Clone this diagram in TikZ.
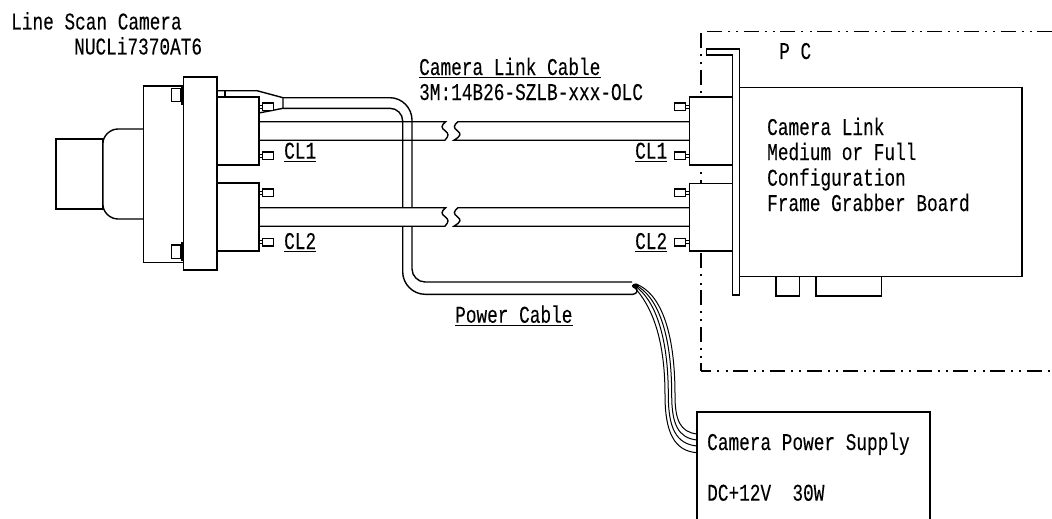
\documentclass[tikz,border=0pt]{standalone}
\usepackage{fontspec}
\newfontfamily\gothic[FakeStretch=0.74,FakeBold=0.12]{Liberation Mono}
\tikzset{
  ink/.style={draw=black,line width=1.4pt,line join=miter},
  part/.style={ink,fill=white},
  border/.style={black,line width=1.9pt,dash pattern=on 15pt off 6pt on 2pt off 6.3pt on 2pt off 5.4pt},
  lbl/.style={anchor=base west,inner sep=0pt,text depth=2.4pt,text height=14pt,font=\gothic\fontsize{24}{24}\selectfont},
  wire/.style={draw=black,line width=1pt}
}
\begin{document}
\begin{tikzpicture}[x=1pt,y=-1pt]
\useasboundingbox (0,0) rectangle (1052,519);
% PC enclosure
\draw[border] (700.7,33) -- (700.7,371);
\draw[border] (707,31.5) -- (1052,31.5);
\draw[border,dash phase=4.3pt] (700.7,371) -- (1052,371);
% power cable
\draw[ink] (283,97.7) -- (390,97.7) .. controls (402,97.7) and (412,108) .. (412,120) -- (412,269) .. controls (412,276) and (418,282) .. (425,282) -- (632,282);
\draw[ink] (283,108.3) -- (390,108.3) .. controls (397,108.3) and (402.7,114) .. (402.7,121) -- (402.7,272) .. controls (402.7,284) and (413,294.3) .. (425,294.3) -- (633,294.3) .. controls (637,293.5) and (638,291) .. (636,288);
\fill[white] (400,207.7) rectangle (415,226.2);
% camera link cables with breaks
\foreach \y in {121.7,207.7}{
  \draw[ink] (259,\y) -- (445.7,\y) .. controls (441,\y+4) and (441,\y+6) .. (445,\y+9) .. controls (449,\y+12) and (449,\y+14) .. (445,\y+18.5) -- (259,\y+18.5);
  \draw[ink] (689,\y) -- (458,\y) .. controls (453.3,\y+4) and (453.3,\y+6) .. (457.3,\y+9) .. controls (461.3,\y+12) and (461.3,\y+14) .. (454,\y+18.5) -- (689,\y+18.5);
}
% lens and body
\draw[part] (56,139) rectangle (103,209);
\draw[part] (143,129) -- (118,129) .. controls (110,129) and (103,136) .. (103,143) -- (103,205) .. controls (103,212) and (110,219) .. (118,219) -- (143,219);
\draw[part] (143.3,86) rectangle (183.5,262.7);
\draw[part] (171.5,88.5) rectangle (180.5,101.5);
\draw[part] (171.5,245) rectangle (180.5,258.5);
\fill[black] (180.5,87) rectangle (183.5,105);
\fill[black] (180.5,242) rectangle (183.5,261);
\draw[part] (183.5,77) rectangle (217,270);
% camera connectors
\draw[part] (217,97) rectangle (259,165);
\draw[part] (217,183) rectangle (259,251);
% strain relief of the power cable
\draw[ink] (217,90.7) -- (257,90.7) -- (283,97.7) -- (283,108.3) -- (259,113);
\draw[ink] (225,90.7) -- (225,97);
% thumb screws
\foreach \y in {103,152,189,238.5}{
  \draw[ink,line width=.9pt,fill=white] (259,\y+2) rectangle (262.3,\y+5);
  \draw[part] (262.3,\y) rectangle (273.5,\y+7.3);
  \draw[ink,line width=.9pt,fill=white] (685.5,\y+2) rectangle (689.5,\y+5);
  \draw[part] (674.5,\y) rectangle (685.5,\y+7.3);
}
% frame grabber
\draw[part] (739.3,87.7) rectangle (1022,276.7);
\draw[part] (776,276.7) rectangle (799.3,296);
\draw[part] (816,276.7) rectangle (881.7,296);
\draw[part] (706.7,49) -- (739.3,49) -- (739.3,295) -- (732.7,295) -- (732.7,55) -- (706.7,55) -- cycle;
\draw[part] (689.5,97) rectangle (732.7,165);
\draw[part] (689.5,183.3) rectangle (732.7,251);
% power leads
\draw[wire,fill=black] (635.5,286) ellipse (3pt and 2pt);
\draw[wire] (636,284) .. controls (660,293) and (675,330) .. (675,395) .. controls (675,420) and (680,432) .. (697,434);
\draw[wire] (635.5,285) .. controls (657,296) and (671.7,332) .. (671.7,395) .. controls (671.7,424) and (678,438) .. (697,440);
\draw[wire] (635,286) .. controls (654,299) and (668.3,334) .. (668.3,395) .. controls (668.3,428) and (676,444) .. (697,446);
\draw[wire] (634,287) .. controls (650,304) and (665,335) .. (665,395) .. controls (665,432) and (674,451) .. (697,452.7);
% power supply
\draw[ink] (697,519) -- (697,412) -- (930,412) -- (930,519);
% texts
\node[lbl] (t1) at (11,29.5) {Line Scan Camera};
\node[lbl] (t2) at (74,54.5) {NUCLi7370AT6};
\node[lbl] (c1l) at (284,158.7) {CL1};
\node[lbl] (c2l) at (284,249) {CL2};
\node[lbl] (c1r) at (635,158.7) {CL1};
\node[lbl] (c2r) at (635,249) {CL2};
\node[lbl] (clc) at (419,75) {Camera Link Cable};
\node[lbl] (pn) at (419,100) {3M:14B26-SZLB-xxx-OLC};
\node[lbl] (pwr) at (455,322.7) {Power Cable};
\node[lbl] (pc) at (779,59) {P C};
\node[lbl] (b1) at (767,135) {Camera Link};
\node[lbl] (b2) at (767,160) {Medium or Full};
\node[lbl] (b3) at (767,185.7) {Configuration};
\node[lbl] (b4) at (767,211) {Frame Grabber Board};
\node[lbl] (s1) at (707,450) {Camera Power Supply};
\node[lbl] (s2) at (707,500.7) {DC+12V\ \ 30W};
\foreach \n in {c1l,c2l,c1r,c2r,clc,pwr}{
  \draw[black,line width=1pt] (\n.south west) -- (\n.south east);
}
\end{tikzpicture}
\end{document}
